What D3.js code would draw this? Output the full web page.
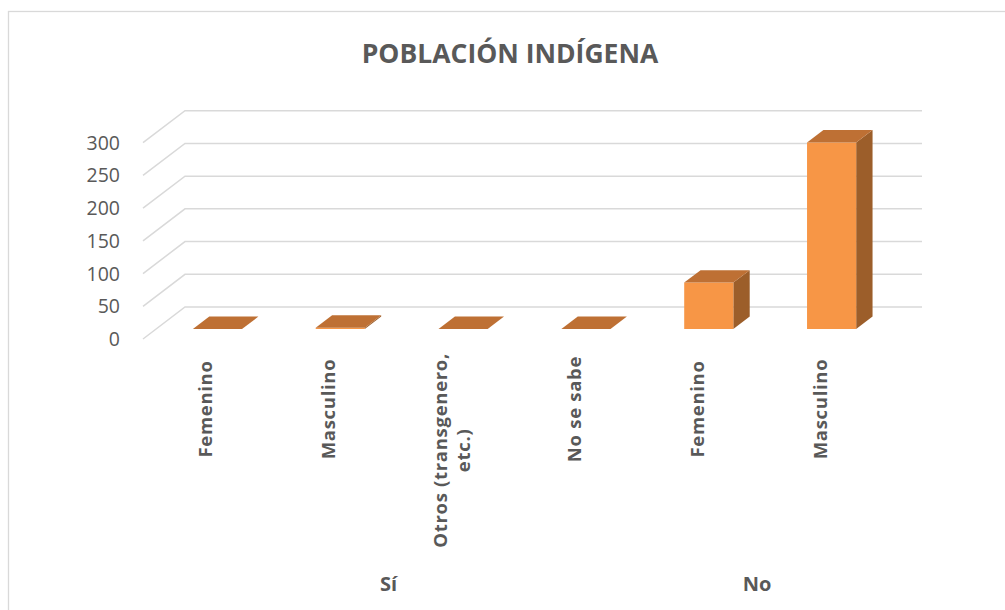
<!DOCTYPE html>
<html>
<head>
<meta charset="utf-8">
<script src="https://cdn.jsdelivr.net/npm/d3@7"></script>
<style>
  html, body { margin: 0; padding: 0; background: #fff; }
  svg { display: block; }
  text { font-family: "Open Sans", "Liberation Sans", sans-serif; fill: #595959; }
</style>
</head>
<body>
<svg id="chart" width="1005" height="610"></svg>
<script>
// ---- data ----
const title = "POBLACIÓN INDÍGENA";
const groups = ["Sí", "No"];
const categories = [
  ["Sí", "Femenino"],
  ["Sí", "Masculino"],
  ["Sí", "Otros (transgenero, etc.)"],
  ["Sí", "No se sabe"],
  ["No", "Femenino"],
  ["No", "Masculino"]
];
const categoryLines = [
  ["Femenino"],
  ["Masculino"],
  ["Otros (transgenero,", "etc.)"],
  ["No se sabe"],
  ["Femenino"],
  ["Masculino"]
];
const values = [0, 2, 0, 0, 71, 285];
const yTicks = [0, 50, 100, 150, 200, 250, 300];

// ---- layout ----
const svg = d3.select("#chart");

// chart border
svg.append("rect")
  .attr("x", 8.5).attr("y", 11.5)
  .attr("width", 1100).attr("height", 700)
  .attr("fill", "none").attr("stroke", "#d9d9d9").attr("stroke-width", 1.3);

// title
svg.append("text")
  .attr("x", 510).attr("y", 63)
  .attr("text-anchor", "middle")
  .attr("font-size", 26.5).attr("font-weight", 700)
  .text(title);

// oblique 3D projection
const plotLeft = 143, plotRight = 880;
const depth = { dx: 42, dy: -32 };
const y = d3.scaleLinear().domain([0, 300]).range([339, 142.7]);
const x = d3.scaleBand()
  .domain(d3.range(categories.length))
  .range([plotLeft, plotRight])
  .paddingInner(0).paddingOuter(0);
const P = (px, py, d) => [px + depth.dx * d, py + depth.dy * d];

// gridlines: back wall + side wall
const grid = svg.append("g").attr("stroke", "#d9d9d9").attr("stroke-width", 1.5).attr("fill", "none");
yTicks.forEach(t => {
  const f = P(plotLeft, y(t), 0), b = P(plotLeft, y(t), 1), br = P(plotRight, y(t), 1);
  grid.append("path").attr("d", d3.line()([f, b, br]));
});

// y-axis tick labels
svg.append("g").selectAll("text").data(yTicks).join("text")
  .attr("x", 120).attr("y", d => y(d))
  .attr("dy", "0.36em")
  .attr("text-anchor", "end")
  .attr("font-size", 19.5)
  .text(d => d);

// bars
const barFrac = 0.4;
const dFront = 0.31, dBack = 0.70;
const colFront = "#F79646", colTop = "#BE7034", colSide = "#9C5E2A";
const bars = svg.append("g");
const poly = pts => "M" + pts.map(p => p.join(",")).join("L") + "Z";
values.forEach((v, i) => {
  const cx = x(i) + x.bandwidth() / 2;
  const bw = x.bandwidth() * barFrac;
  const xl = cx - bw / 2, xr = cx + bw / 2;
  const y0 = y(0), y1 = y(v);
  const ftl = P(xl, y1, dFront), ftr = P(xr, y1, dFront);
  const fbl = P(xl, y0, dFront), fbr = P(xr, y0, dFront);
  const btl = P(xl, y1, dBack), btr = P(xr, y1, dBack);
  const bbr = P(xr, y0, dBack);
  if (v > 0) {
    bars.append("path").attr("d", poly([ftr, fbr, bbr, btr])).attr("fill", colSide);
    bars.append("path").attr("d", poly([ftl, ftr, fbr, fbl])).attr("fill", colFront);
  }
  bars.append("path").attr("d", poly([ftl, ftr, btr, btl])).attr("fill", colTop);
});

// category labels (rotated)
const labelTop = 353, labelMid = 409, lineH = 23, fs = 18.5, ls = 0.7;
const catG = svg.append("g");
categoryLines.forEach((lines, i) => {
  const cx = x(i) + x.bandwidth() / 2;
  const tmp = catG.append("text").attr("font-size", fs).attr("font-weight", 700)
    .attr("letter-spacing", ls);
  const widths = lines.map(l => { tmp.text(l); return tmp.node().getComputedTextLength(); });
  tmp.remove();
  const maxW = d3.max(widths);
  const mid = Math.max(labelMid, labelTop + maxW / 2);
  const n = lines.length;
  const t = catG.append("text")
    .attr("transform", `translate(${cx},${mid}) rotate(-90)`)
    .attr("text-anchor", "middle")
    .attr("letter-spacing", ls)
    .attr("font-size", fs).attr("font-weight", 700);
  lines.forEach((l, k) => {
    t.append("tspan").attr("x", 0)
      .attr("y", (k - (n - 1) / 2) * lineH + 8)
      .text(l);
  });
});

// group labels
groups.forEach(g => {
  const idx = categories.map((c, i) => c[0] === g ? i : -1).filter(i => i >= 0);
  const gx = (x(idx[0]) + x(idx[idx.length - 1]) + x.bandwidth()) / 2;
  svg.append("text")
    .attr("x", gx).attr("y", 591)
    .attr("text-anchor", "middle")
    .attr("font-size", 20).attr("font-weight", 700)
    .text(g);
});
</script>
</body>
</html>
